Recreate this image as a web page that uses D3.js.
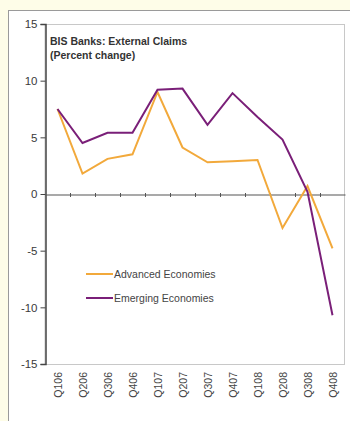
<!DOCTYPE html>
<html><head><meta charset="utf-8">
<script src="https://cdn.jsdelivr.net/npm/d3@7"></script>
<style>
html,body{margin:0;padding:0;background:#fefde8;}
svg{display:block;}
text{font-family:"Liberation Sans",Arial,sans-serif;}
</style></head>
<body>
<svg id="c" width="350" height="421"></svg>
<script>
const categories = ["Q106","Q206","Q306","Q406","Q107","Q207","Q307","Q407","Q108","Q208","Q308","Q408"];
const advanced = [7.5, 1.8, 3.1, 3.5, 9.0, 4.1, 2.8, 2.9, 3.0, -3.0, 0.7, -4.8];
const emerging = [7.5, 4.5, 5.4, 5.4, 9.2, 9.3, 6.1, 8.9, 6.8, 4.8, 0.2, -10.7];
const yTicks = [15, 10, 5, 0, -5, -10, -15];
const seriesNames = ["Advanced Economies", "Emerging Economies"];
const colors = ["#f2a93b", "#7a1f78"];

const svg = d3.select("#c");
// outer frame
svg.append("rect").attr("x",8.5).attr("y",10.5).attr("width",360).attr("height",420)
  .attr("fill","#ffffff").attr("stroke","#9a9a9a").attr("stroke-width",1);

const L=45, R=345, T=24, B=364;
const x = d3.scaleBand().domain(categories).range([L,R]);
const y = d3.scaleLinear().domain([-15,15]).range([B,T]);

// plot border (light)
svg.append("rect").attr("x",L).attr("y",T+0.5).attr("width",R-L-0.5).attr("height",B-T)
  .attr("fill","none").attr("stroke","#c8c8c8").attr("stroke-width",1);

// y axis
const ya = svg.append("g").attr("transform",`translate(${L+0.5},0)`)
  .call(d3.axisLeft(y).tickValues(yTicks).tickSize(5).tickPadding(3).tickFormat(d=>String(d)));
ya.select(".domain").attr("stroke","#444").attr("stroke-width",1.5);
ya.selectAll(".tick line").attr("stroke","#444");
ya.selectAll(".tick text").attr("fill","#3a3a3a").style("font-size","11.5px")
  .style("font-family","'Liberation Sans',Arial,sans-serif");

// zero axis
const xa = svg.append("g").attr("transform",`translate(0,${y(0)+0.5})`)
  .call(d3.axisBottom(x).tickValues([]).tickSizeOuter(0));
xa.select(".domain").attr("stroke","#555").attr("stroke-width",1.2);
// ticks at band boundaries
svg.append("g").selectAll("line").data(categories.slice(1)).join("line")
  .attr("x1",d=>x(d)+0.5).attr("x2",d=>x(d)+0.5)
  .attr("y1",y(0)-1).attr("y2",y(0)+3).attr("stroke","#555").attr("stroke-width",1);

// category labels rotated
svg.append("g").selectAll("text").data(categories).join("text")
  .attr("transform",d=>`translate(${x(d)+x.bandwidth()/2+4},${B+8}) rotate(-90)`)
  .attr("text-anchor","end").attr("fill","#444").style("font-size","10.5px").text(d=>d);

const line = d3.line().x((d,i)=>x(categories[i])+x.bandwidth()/2).y(d=>y(d));
[advanced, emerging].forEach((s,k)=>{
  svg.append("path").datum(s).attr("d",line).attr("fill","none")
    .attr("stroke",colors[k]).attr("stroke-width",2).attr("stroke-linejoin","miter");
});

// title
svg.append("text").attr("x",50).attr("y",45).attr("fill","#333").style("font-size","10.5px")
  .style("font-weight","bold").text("BIS Banks: External Claims");
svg.append("text").attr("x",50).attr("y",59).attr("fill","#333").style("font-size","10.5px")
  .style("font-weight","bold").text("(Percent change)");

// legend
seriesNames.forEach((n,k)=>{
  const ly = 274 + k*24;
  svg.append("line").attr("x1",86).attr("x2",113).attr("y1",ly).attr("y2",ly)
    .attr("stroke",colors[k]).attr("stroke-width",2);
  svg.append("text").attr("x",114).attr("y",ly+4).attr("fill","#444")
    .style("font-size","10.5px").text(n);
});
</script>
</body></html>
